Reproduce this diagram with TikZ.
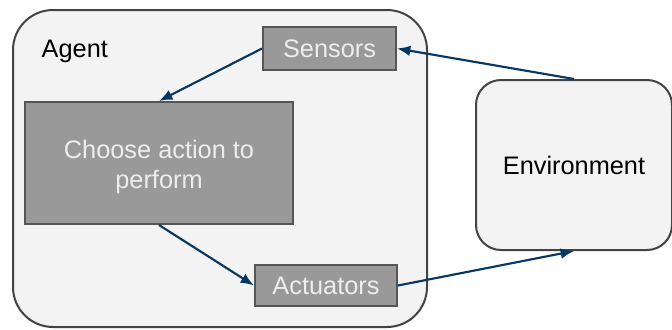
\documentclass[tikz,border=0pt]{standalone}
\usepackage{fontspec}
\setmainfont{Liberation Sans}
\usetikzlibrary{arrows.meta}
\definecolor{panel}{HTML}{F3F3F3}
\definecolor{edge}{HTML}{434343}
\definecolor{block}{HTML}{999999}
\definecolor{blockline}{HTML}{555555}
\definecolor{link}{HTML}{073763}
\tikzset{x=0.75pt,y=-0.75pt,
    frame/.style={draw=edge,fill=panel,line width=1.5pt,rounded corners=#1},
    part/.style={draw=blockline,fill=block,line width=1.5pt,text=white!93!black,
      font=\fontsize{19}{22.5}\selectfont,align=center},
    flow/.style={draw=link,line width=1.6pt,-{Latex[length=10pt,width=8pt]}}}

\begin{document}
\begin{tikzpicture}
    \useasboundingbox (0,0) rectangle (672,329);
    \node[frame=30pt,minimum width=310.5pt,minimum height=237.75pt] (agent) at (220,168.5) {};
    \node[anchor=west,font=\fontsize{19}{22.5}\selectfont] (agentname) at (37,51) {Agent};
    \node[frame=18.75pt,minimum width=147pt,minimum height=127.5pt,
      font=\fontsize{19}{22.5}\selectfont] (env) at (574,165) {Environment};
    \node[part,minimum width=99.75pt,minimum height=32.25pt] (sensors) at (329.5,48.5) {Sensors};
    \node[part,minimum width=201pt,minimum height=91.5pt] (choose) at (159,163) {};
    \node[part,draw=none,fill=none] (choosetext) at (159,167) {Choose action to\\perform};
    \node[part,minimum width=106.5pt,minimum height=30.75pt] (actuators) at (326,285.5) {Actuators};
    \path[flow] (sensors.west) -- (choose.north);
    \path[flow] (choose.south) -- (actuators.west);
    \path[flow] (actuators.east) -- (env.south);
    \path[flow] (env.north) -- (sensors.east);
\end{tikzpicture}
\end{document}
